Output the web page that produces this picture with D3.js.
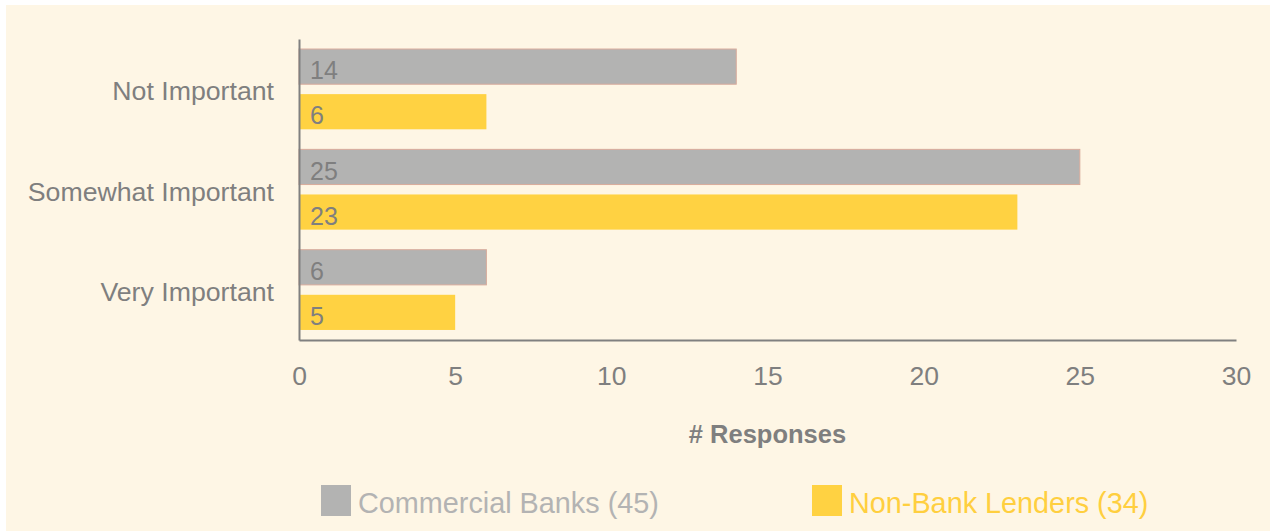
<!DOCTYPE html>
<html>
<head>
<meta charset="utf-8">
<script src="https://cdn.jsdelivr.net/npm/d3@7"></script>
<style>
  html, body { margin: 0; padding: 0; background: #ffffff; }
  svg { display: block; }
  text { font-family: "Liberation Sans", Arial, Helvetica, sans-serif; }
</style>
</head>
<body>
<svg id="chart" width="1270" height="531"></svg>
<script>
// Importance ratings, responses per lender type
const categories = ["Not Important", "Somewhat Important", "Very Important"];
const seriesNames = ["Commercial Banks", "Non-Bank Lenders"];
const seriesTotals = [45, 34];
const commercialBanks = [14, 25, 6];
const nonBankLenders = [6, 23, 5];
const xTicks = [0, 5, 10, 15, 20, 25, 30];
const xTitle = "# Responses";

const seriesValues = [commercialBanks, nonBankLenders];
const colors = ["#b3b3b2", "#ffd242"];
const legendTextColors = ["#b3b3b3", "#ffcf3f"];
const inkColor = "#7f7f7f";

const svg = d3.select("#chart");

// cream panel
svg.append("rect")
  .attr("x", 6).attr("y", 5)
  .attr("width", 1264).attr("height", 526)
  .attr("fill", "#fef6e5");

const plotLeft = 299, plotRight = 1236, plotTop = 39, plotBottom = 340;

const x = d3.scaleLinear().domain([0, 30]).range([plotLeft, plotRight]);
const y = d3.scaleBand().domain(categories).range([plotTop, plotBottom])
  .paddingInner(0.2).paddingOuter(0.1);
const ySub = d3.scaleBand().domain(seriesNames).range([0, y.bandwidth()])
  .paddingInner(0.22);

// bars
const rows = [];
categories.forEach((c, i) => {
  seriesNames.forEach((s, j) => {
    rows.push({ cat: c, series: s, idx: j, value: seriesValues[j][i] });
  });
});

const g = svg.append("g");
g.selectAll("rect.bar")
  .data(rows)
  .join("rect")
  .attr("class", "bar")
  .attr("x", x(0))
  .attr("y", d => y(d.cat) + ySub(d.series))
  .attr("width", d => x(d.value) - x(0))
  .attr("height", ySub.bandwidth())
  .attr("fill", d => colors[d.idx])
  .attr("stroke", d => d.idx === 0 ? "#d8ab9c" : "none")
  .attr("stroke-width", 1);

// value labels inside bars
g.selectAll("text.val")
  .data(rows)
  .join("text")
  .attr("class", "val")
  .attr("x", x(0) + 11)
  .attr("y", d => y(d.cat) + ySub(d.series) + ySub.bandwidth() - 5)
  .attr("font-size", 25)
  .attr("fill", inkColor)
  .text(d => d.value);

// axes
const xAxis = d3.axisBottom(x).tickValues(xTicks).tickSize(0).tickPadding(26);
const gx = svg.append("g").attr("transform", `translate(0,${plotBottom})`).call(xAxis);
gx.select(".domain").attr("stroke", "#808080").attr("stroke-width", 2);
gx.selectAll(".tick text")
  .attr("font-size", 26.5)
  .attr("fill", inkColor)
  .attr("font-family", "'Liberation Sans', Arial, sans-serif");

const yAxis = d3.axisLeft(y).tickSize(0).tickPadding(25);
const gy = svg.append("g").attr("transform", `translate(${plotLeft},0)`).call(yAxis);
gy.select(".domain").attr("stroke", "#808080").attr("stroke-width", 2);
gy.selectAll(".tick text")
  .attr("font-size", 26.7)
  .attr("fill", inkColor)
  .attr("dy", "0.42em")
  .attr("font-family", "'Liberation Sans', Arial, sans-serif");

// axis title
svg.append("text")
  .attr("x", (plotLeft + plotRight) / 2)
  .attr("y", 443)
  .attr("text-anchor", "middle")
  .attr("font-size", 25.5)
  .attr("font-weight", "bold")
  .attr("fill", inkColor)
  .text(xTitle);

// legend
const legendX = [321, 812];
const legend = svg.append("g");
seriesNames.forEach((s, j) => {
  legend.append("rect")
    .attr("x", legendX[j]).attr("y", 485)
    .attr("width", 30).attr("height", 31)
    .attr("fill", colors[j]);
  legend.append("text")
    .attr("x", legendX[j] + 37)
    .attr("y", 513)
    .attr("font-size", 28.8)
    .attr("fill", legendTextColors[j])
    .text(`${s} (${seriesTotals[j]})`);
});
</script>
</body>
</html>
